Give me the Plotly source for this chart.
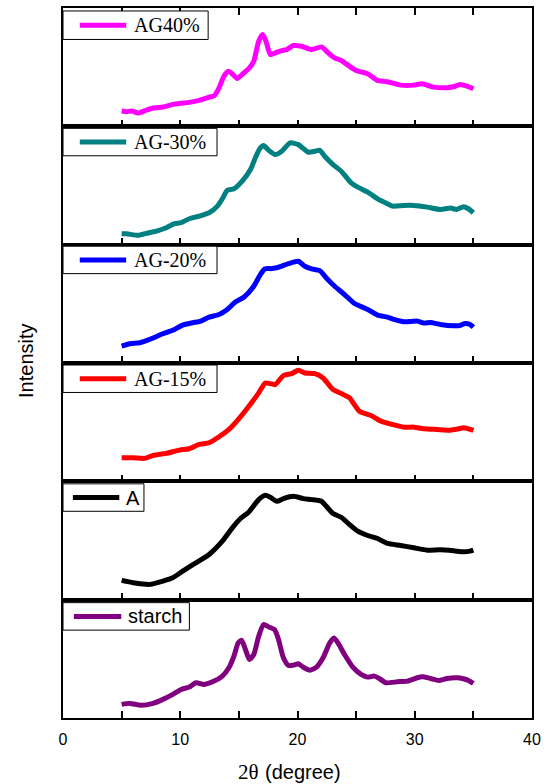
import plotly.graph_objects as go
from plotly.subplots import make_subplots

# ---------------- data (arbitrary intensity units) ----------------
labels = ["AG40%", "AG-30%", "AG-20%", "AG-15%", "A", "starch"]
colors = ["#FF00FF", "#008080", "#0000FF", "#FF0000", "#000000", "#800080"]

ag40_x = [5.0, 5.42, 5.85, 6.41, 7.11, 7.82, 8.52, 9.37, 9.93, 10.77, 11.62, 12.46, 12.89, 13.31,
          13.73, 14.10, 14.49, 14.86, 15.28, 15.90, 16.27, 16.69, 17.03, 17.31, 17.68, 18.10, 18.66,
          19.08, 19.65, 20.35, 21.20, 22.04, 22.61, 23.17, 23.73, 24.30, 25.0, 25.99, 26.83, 27.68,
          28.80, 29.93, 30.63, 31.62, 32.75, 33.31, 33.87, 34.44, 35.0]
ag40_y = [46, 44, 46, 40, 49, 56, 58, 66, 69, 72, 78, 88, 92, 116,
          151, 166, 156, 144, 156, 176, 196, 256, 276, 256, 216, 221, 228,
          231, 243, 241, 231, 239, 221, 206, 198, 184, 168, 158, 138, 134,
          124, 124, 128, 118, 116, 119, 126, 121, 113]

ag30_x = [5.0, 5.42, 6.41, 7.11, 7.96, 8.80, 9.51, 10.07, 10.77, 11.62, 12.46, 13.17, 13.59, 14.01,
          14.58, 15.28, 15.99, 16.46, 16.83, 17.11, 17.54, 18.10, 18.66, 19.37, 20.07, 20.92, 21.48,
          21.90, 22.32, 23.03, 23.73, 24.58, 25.14, 25.99, 26.83, 27.39, 28.10, 29.08, 29.93, 31.06,
          32.18, 33.03, 33.59, 34.15, 34.58, 35.0]
ag30_y = [33, 33, 28, 34, 41, 51, 63, 66, 78, 86, 96, 116, 138, 164,
          168, 191, 226, 266, 291, 298, 284, 271, 281, 306, 301, 278, 281,
          284, 266, 241, 221, 186, 173, 158, 138, 128, 116, 118, 118, 113,
          106, 110, 106, 114, 108, 96]

ag20_x = [5.0, 5.70, 6.55, 7.39, 8.52, 9.51, 10.21, 11.06, 11.76, 12.46, 13.31, 14.01, 14.72, 15.42,
          16.27, 16.83, 17.20, 17.82, 18.38, 19.23, 20.07, 20.63, 21.20, 21.90, 22.46, 23.17, 24.01,
          24.86, 25.99, 26.83, 27.68, 28.24, 29.08, 30.21, 30.77, 31.34, 32.18, 33.31, 33.87, 34.30,
          34.72, 35.0]
ag20_y = [51, 58, 61, 71, 88, 101, 114, 121, 126, 138, 146, 161, 184, 198,
          231, 266, 283, 284, 288, 299, 306, 291, 283, 278, 256, 231, 206,
          179, 161, 144, 138, 131, 124, 126, 120, 122, 116, 112, 113, 119,
          116, 108]

ag15_x = [5.0, 5.99, 6.97, 7.68, 8.80, 9.93, 10.77, 11.62, 12.46, 13.31, 14.15, 14.99, 15.85, 16.69,
          17.25, 17.68, 18.10, 18.80, 19.51, 20.07, 20.63, 21.48, 22.18, 23.03, 23.73, 24.44, 25.28,
          26.27, 27.11, 28.10, 29.08, 29.93, 30.77, 31.90, 33.03, 33.73, 34.15, 34.58, 35.0]
ag15_y = [71, 71, 69, 78, 84, 94, 98, 111, 116, 134, 156, 188, 226, 266,
          296, 294, 291, 318, 324, 334, 326, 324, 311, 276, 264, 251, 211,
          198, 181, 171, 163, 163, 158, 156, 154, 158, 161, 158, 153]

a_x = [5.0, 5.99, 7.39, 8.52, 9.37, 10.21, 11.34, 12.46, 13.59, 14.44, 15.14, 15.85, 16.69, 17.25,
       17.68, 18.24, 18.80, 19.65, 20.49, 21.20, 22.04, 22.46, 23.03, 23.73, 24.44, 25.14, 25.99,
       26.83, 27.68, 28.80, 29.93, 31.06, 32.18, 33.31, 34.15, 34.72, 35.0]
a_y = [58, 51, 46, 56, 66, 86, 111, 136, 176, 216, 244, 264, 301, 314,
       308, 296, 304, 311, 304, 301, 296, 281, 259, 248, 226, 206, 193,
       184, 169, 163, 156, 149, 150, 147, 144, 146, 149]

starch_x = [5.0, 5.70, 6.69, 7.68, 8.52, 9.37, 10.07, 10.77, 11.34, 12.04, 12.89, 13.59, 14.15, 14.58,
            14.94, 15.23, 15.56, 15.90, 16.27, 16.69, 17.11, 17.54, 18.04, 18.38, 18.80, 19.23, 19.65,
            20.07, 20.49, 21.06, 21.62, 22.18, 22.75, 23.11, 23.45, 24.01, 24.72, 25.42, 25.99, 26.55,
            26.97, 27.54, 28.52, 29.37, 30.21, 30.63, 31.34, 32.04, 32.75, 33.59, 34.15, 34.58, 35.0]
starch_y = [41, 44, 38, 44, 56, 71, 86, 93, 106, 101, 111, 126, 151, 186,
            226, 234, 206, 176, 191, 246, 281, 274, 266, 236, 181, 158, 159,
            163, 153, 144, 153, 181, 226, 241, 226, 191, 153, 131, 123, 126,
            119, 106, 109, 111, 121, 124, 119, 113, 119, 121, 118, 113, 104]

xs = [ag40_x, ag30_x, ag20_x, ag15_x, a_x, starch_x]
ys = [ag40_y, ag30_y, ag20_y, ag15_y, a_y, starch_y]

x_range = [0, 40]
y_range = [0, 356]
x_tickvals = [0, 10, 20, 30, 40]

# ---------------- figure ----------------
W, H = 548, 784
ML, MR, MT, MB = 63, 10, 7, 66
PW, PH = W - ML - MR, H - MT - MB


def px2x(px):
    return (px - ML) / PW


def py2y(py):
    return (H - MB - py) / PH


fig = make_subplots(rows=6, cols=1, shared_xaxes=True, vertical_spacing=0)

for i in range(6):
    fig.add_trace(go.Scatter(x=xs[i], y=ys[i], mode="lines",
                             line=dict(color=colors[i], width=5, shape="spline", smoothing=0.6),
                             showlegend=False, hoverinfo="skip"),
                  row=i + 1, col=1)
    fig.update_xaxes(row=i + 1, col=1, range=x_range, showline=True, linecolor="black",
                     linewidth=1.5, mirror=("ticks" if i == 0 else True), ticks="inside",
                     ticklen=7, tickwidth=1.5, tickcolor="black", tickvals=x_tickvals,
                     minor=dict(dtick=5, ticks="inside", ticklen=7, tickwidth=1.5, tickcolor="black"),
                     showgrid=False, zeroline=False,
                     tickfont=dict(family="Liberation Sans", size=16, color="black"),
                     ticklabelstandoff=6)
    fig.update_yaxes(row=i + 1, col=1, range=y_range, showline=True, linecolor="black",
                     linewidth=1.5, mirror=True, ticks="", showticklabels=False,
                     showgrid=False, zeroline=False)

# ---------------- legend boxes (one per panel) ----------------
legend_boxes = [  # (x0, x1, y0, y1, line_x0, line_x1, text_x, font)
    (63, 210, 10, 38.5, 80, 127, 133, "Liberation Serif"),
    (63, 219, 127.5, 155, 80, 127, 133, "Liberation Serif"),
    (63, 219, 245.5, 273, 80, 127, 133, "Liberation Serif"),
    (63, 219, 364.5, 392, 80, 127, 133, "Liberation Serif"),
    (63, 145, 483.5, 511, 73, 120, 125, "Liberation Sans"),
    (63, 191, 602.5, 630, 74, 122, 127, "Liberation Sans"),
]
for i, (bx0, bx1, by0, by1, lx0, lx1, tx, fam) in enumerate(legend_boxes):
    fig.add_shape(type="rect", xref="paper", yref="paper",
                  x0=px2x(bx0), x1=px2x(bx1), y0=py2y(by1), y1=py2y(by0),
                  line=dict(color="black", width=1), fillcolor="white", layer="above")
    yc = py2y((by0 + by1) / 2)
    fig.add_shape(type="line", xref="paper", yref="paper",
                  x0=px2x(lx0), x1=px2x(lx1), y0=yc, y1=yc,
                  line=dict(color=colors[i], width=5), layer="above")
    fig.add_annotation(xref="paper", yref="paper", x=px2x(tx), y=yc,
                       xanchor="left", yanchor="middle", showarrow=False,
                       text=labels[i], font=dict(family=fam, size=20, color="black"))

# ---------------- axis titles ----------------
fig.add_annotation(xref="paper", yref="paper", x=px2x(264), y=py2y(772),
                   xanchor="right", yanchor="middle", showarrow=False,
                   text="2θ", font=dict(family="Liberation Serif", size=21, color="black"))
fig.add_annotation(xref="paper", yref="paper", x=px2x(266), y=py2y(772),
                   xanchor="left", yanchor="middle", showarrow=False,
                   text="(degree)", font=dict(family="Liberation Sans", size=20, color="black"))
fig.add_annotation(xref="paper", yref="paper", x=px2x(25), y=py2y(360),
                   xanchor="center", yanchor="middle", showarrow=False, textangle=-90,
                   text="Intensity", font=dict(family="Liberation Sans", size=20, color="black"))

fig.update_layout(width=W, height=H, margin=dict(l=ML, r=MR, t=MT, b=MB),
                  paper_bgcolor="white", plot_bgcolor="white", showlegend=False)

fig.write_html("out.html", config={"displayModeBar": False},
               post_script="document.body.style.margin='0';document.body.style.overflow='hidden';")
